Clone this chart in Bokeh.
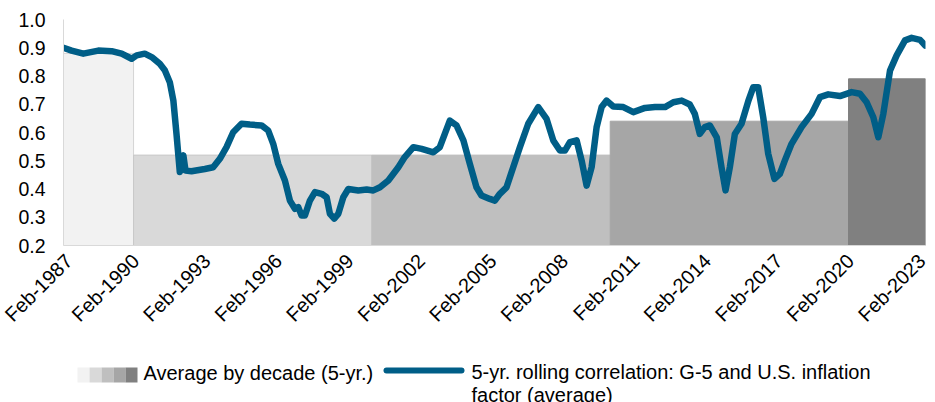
import math
from bokeh.plotting import figure
from bokeh.layouts import column
from bokeh.models import Range1d, FixedTicker, CustomJSTickFormatter, PrintfTickFormatter
from bokeh.core.properties import value
from bokeh.embed import file_html
from bokeh.resources import INLINE

# ---------------- data ----------------
corr_dates = [1987.06, 1987.40, 1987.89, 1988.52, 1989.08, 1989.50, 1989.92, 1990.13, 1990.47, 1990.76,
              1991.10, 1991.31, 1991.52, 1991.67, 1991.80, 1991.94, 1992.09, 1992.18, 1992.43, 1992.99,
              1993.34, 1993.62, 1993.90, 1994.18, 1994.53, 1994.88, 1995.37, 1995.65, 1995.86, 1996.07,
              1996.35, 1996.56, 1996.77, 1996.91, 1997.05, 1997.19, 1997.40, 1997.61, 1997.89, 1998.10,
              1998.24, 1998.42, 1998.59, 1998.80, 1999.01, 1999.43, 1999.78, 2000.06, 2000.34, 2000.69,
              2001.11, 2001.38, 2001.74, 2002.09, 2002.58, 2002.85, 2003.06, 2003.27, 2003.55, 2003.84,
              2004.11, 2004.39, 2004.60, 2004.95, 2005.16, 2005.37, 2005.65, 2005.93, 2006.21, 2006.56,
              2006.98, 2007.33, 2007.61, 2007.89, 2008.10, 2008.31, 2008.59, 2008.80, 2009.01, 2009.22,
              2009.43, 2009.64, 2009.85, 2010.13, 2010.55, 2010.97, 2011.46, 2011.88, 2012.30, 2012.65,
              2013.00, 2013.34, 2013.55, 2013.76, 2013.97, 2014.18, 2014.47, 2014.67, 2014.84, 2015.02,
              2015.23, 2015.51, 2015.80, 2016.00, 2016.21, 2016.42, 2016.63, 2016.89, 2017.12, 2017.33,
              2017.61, 2018.03, 2018.45, 2018.80, 2019.15, 2019.64, 2020.13, 2020.48, 2020.76, 2021.04,
              2021.25, 2021.46, 2021.74, 2022.02, 2022.37, 2022.65, 2023.00, 2023.22]
corr_values = [0.900, 0.890, 0.879, 0.890, 0.888, 0.879, 0.861, 0.873, 0.879, 0.867,
               0.843, 0.820, 0.778, 0.713, 0.596, 0.460, 0.519, 0.465, 0.463, 0.471,
               0.477, 0.507, 0.548, 0.601, 0.631, 0.628, 0.625, 0.607, 0.560, 0.489,
               0.430, 0.359, 0.330, 0.336, 0.306, 0.306, 0.359, 0.389, 0.383, 0.371,
               0.312, 0.295, 0.312, 0.371, 0.400, 0.395, 0.398, 0.395, 0.406, 0.430,
               0.477, 0.513, 0.548, 0.542, 0.530, 0.548, 0.595, 0.642, 0.625, 0.572,
               0.489, 0.406, 0.377, 0.365, 0.359, 0.383, 0.406, 0.477, 0.548, 0.631,
               0.690, 0.648, 0.572, 0.536, 0.536, 0.566, 0.572, 0.501, 0.412, 0.477,
               0.619, 0.690, 0.713, 0.692, 0.690, 0.672, 0.687, 0.690, 0.690, 0.707,
               0.713, 0.699, 0.666, 0.595, 0.619, 0.625, 0.583, 0.477, 0.395, 0.477,
               0.595, 0.631, 0.713, 0.760, 0.760, 0.654, 0.525, 0.436, 0.454, 0.501,
               0.560, 0.619, 0.666, 0.725, 0.735, 0.729, 0.743, 0.737, 0.707, 0.654,
               0.583, 0.666, 0.819, 0.873, 0.926, 0.935, 0.928, 0.908]

decade_start = [1987.06, 1990.0, 2000.0, 2010.0, 2020.0]
decade_end = [1990.0, 2000.0, 2010.0, 2020.0, 2023.23]
decade_avg = [0.88, 0.52, 0.52, 0.64, 0.79]

tick_years = [1987, 1990, 1993, 1996, 1999, 2002, 2005, 2008, 2011, 2014, 2017, 2020, 2023]
y_ticks = [0.2, 0.3, 0.4, 0.5, 0.6, 0.7, 0.8, 0.9, 1.0]

legend_bar_label = "Average by decade (5-yr.)"
legend_line_label = ["5-yr. rolling correlation: G-5 and U.S. inflation", "factor (average)"]

# ---------------- styles ----------------
FONT = "Liberation Sans"
LINE_COLOR = "#005e87"
bar_colors = ["#f2f2f2", "#d9d9d9", "#bfbfbf", "#a6a6a6", "#808080"]
bar_edges = ["#d4d4d4", "#c8c8c8", "#bfbfbf", "#a6a6a6", "#808080"]

X0, X1 = 1987.06, 2023.23

p = figure(frame_width=862, frame_height=226,
           min_border_left=63, min_border_right=8, min_border_top=19, min_border_bottom=90,
           x_range=Range1d(X0, X1), y_range=Range1d(0.2, 1.0),
           output_backend="svg", toolbar_location=None)
p.outline_line_color = None
p.xgrid.visible = False
p.ygrid.visible = False
p.background_fill_color = "white"

p.quad(left=decade_start, right=decade_end, top=decade_avg, bottom=0.2,
       fill_color=bar_colors, line_color=bar_edges, line_width=1)
p.line(corr_dates, corr_values, line_color=LINE_COLOR, line_width=6.5,
       line_join="round", line_cap="round")

# y axis
ya = p.yaxis[0]
ya.ticker = FixedTicker(ticks=y_ticks)
ya.formatter = PrintfTickFormatter(format="%.1f")
ya.axis_line_color = "#d9d9d9"
ya.major_tick_line_color = None
ya.minor_tick_line_color = None
ya.major_tick_out = 0
ya.major_label_standoff = 18
ya.major_label_text_font = FONT
ya.major_label_text_font_size = "19.5px"
ya.major_label_text_color = "#000000"

# x axis
xa = p.xaxis[0]
xa.ticker = FixedTicker(ticks=[y + 1.0 / 12 for y in tick_years])
xa.formatter = CustomJSTickFormatter(code="return 'Feb-' + Math.floor(tick + 0.001);")
xa.axis_line_color = "#d9d9d9"
xa.major_tick_line_color = None
xa.minor_tick_line_color = None
xa.major_tick_out = 0
xa.major_label_standoff = 12
xa.major_label_orientation = math.pi / 4
xa.major_label_text_font = FONT
xa.major_label_text_font_size = "20px"
xa.major_label_text_color = "#000000"

# ---------------- legend strip (frame aligned with the chart; 1 unit = 1 px) ----------------
leg = figure(frame_width=862, height=67, min_border_left=63, min_border_right=8,
             min_border_top=0, min_border_bottom=0,
             x_range=Range1d(63, 925), y_range=Range1d(67, 0),
             output_backend="svg", toolbar_location=None)
leg.axis.visible = False
leg.xgrid.visible = False
leg.ygrid.visible = False
leg.outline_line_color = None

sw_left = [77, 89, 101, 113, 125]
sw_right = [89, 101, 113, 125, 137]
leg.quad(left=sw_left, right=sw_right, top=[31] * 5, bottom=[46] * 5,
         fill_color=bar_colors, line_color=None)
leg.text(x=[143], y=[36], text=[legend_bar_label], text_font=value(FONT),
         text_font_size="20px", text_baseline="middle", text_align="left", text_color="#000000")
leg.line([386, 461], [34, 34], line_color=LINE_COLOR, line_width=6, line_cap="round")
leg.text(x=[471, 471], y=[35, 58], text=legend_line_label, text_font=value(FONT),
         text_font_size="20px", text_baseline="middle", text_align="left", text_color="#000000")

layout = column(p, leg, spacing=0)
open("out.html", "w").write(file_html(layout, INLINE))
